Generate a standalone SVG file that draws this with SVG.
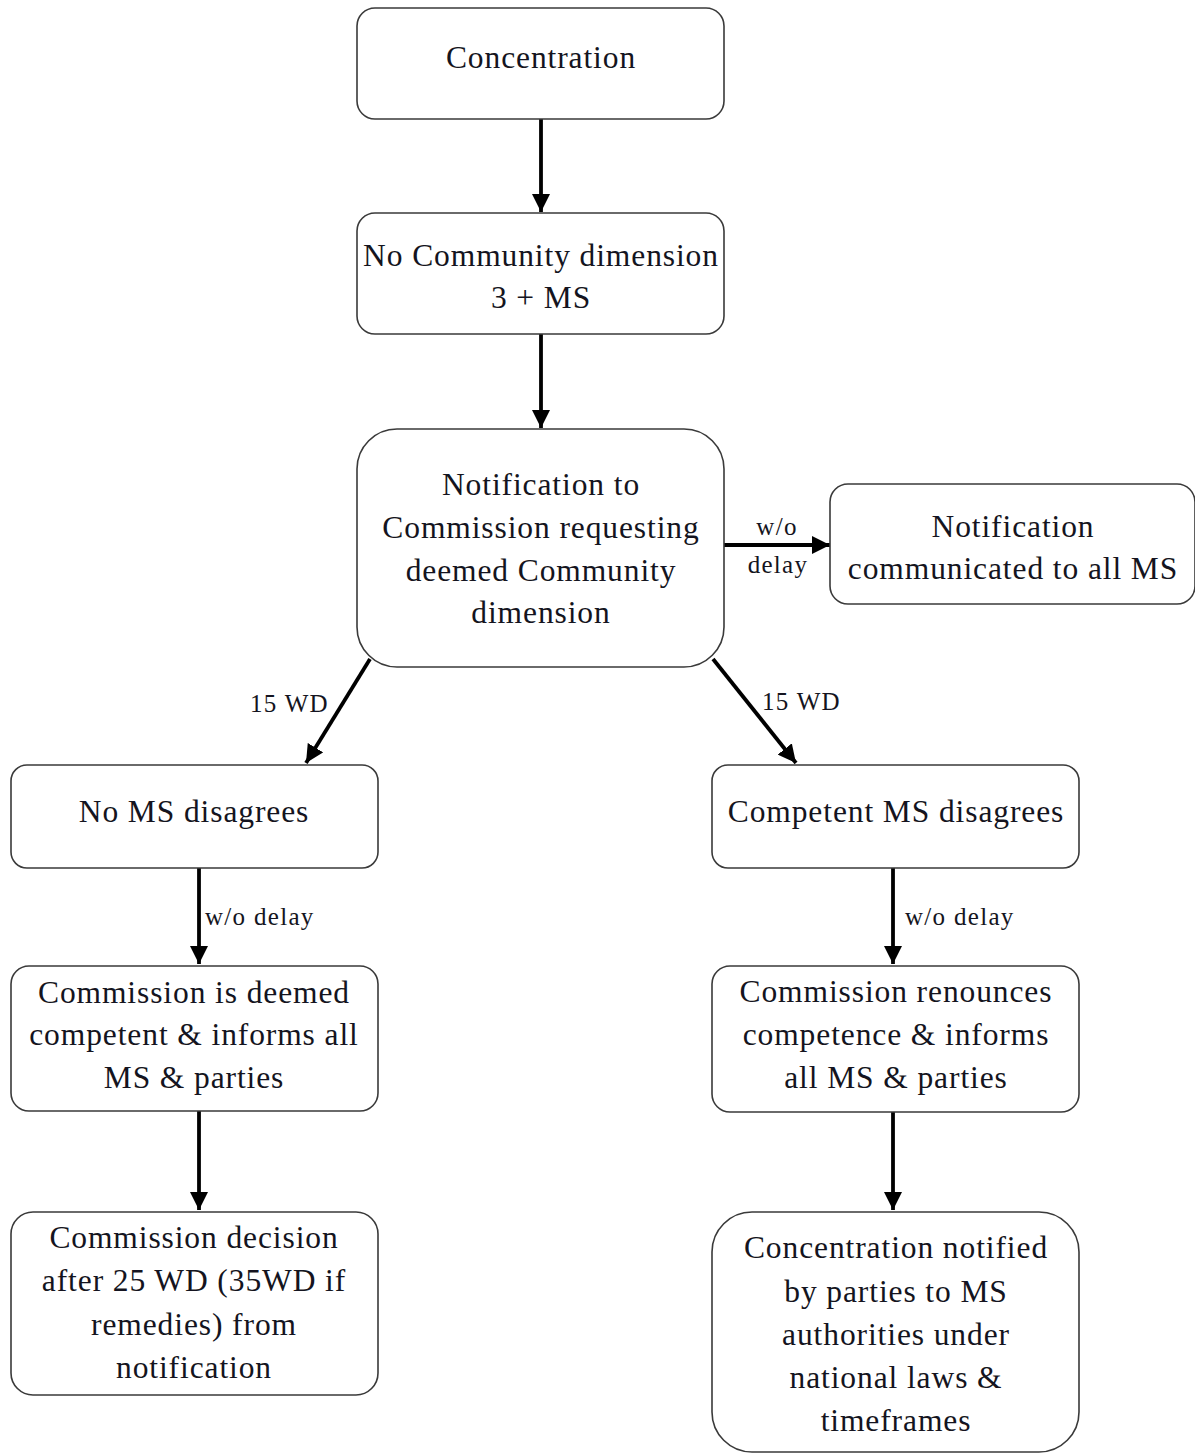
<svg xmlns="http://www.w3.org/2000/svg" width="1195" height="1454" viewBox="0 0 1195 1454">
<defs>
<style>
.box{fill:#fff;stroke:#3a3a3a;stroke-width:1.6}
.t{font-family:"Liberation Serif","Times New Roman",serif;font-size:31.5px;letter-spacing:0.9px;fill:#141420;text-anchor:middle}
.s{font-family:"Liberation Serif","Times New Roman",serif;font-size:25px;letter-spacing:1.3px;fill:#141420}
.c{stroke:#000;stroke-width:3.8;fill:none;marker-end:url(#ah)}
</style>
<marker id="ah" markerUnits="userSpaceOnUse" markerWidth="20" markerHeight="18" refX="18" refY="9" orient="auto">
<path d="M0,0 L18,9 L0,18 Z" fill="#000"/>
</marker>
</defs>
<rect width="1195" height="1454" fill="#fff"/>
<g id="connectors">
<line class="c" x1="541" y1="119" x2="541" y2="212"/>
<line class="c" x1="541" y1="334" x2="541" y2="428"/>
<line class="c" x1="724" y1="545" x2="830" y2="545"/>
<line class="c" x1="370" y1="659" x2="306" y2="763"/>
<line class="c" x1="713" y1="659" x2="796" y2="763"/>
<line class="c" x1="199" y1="868" x2="199" y2="964"/>
<line class="c" x1="893" y1="868" x2="893" y2="964"/>
<line class="c" x1="199" y1="1111" x2="199" y2="1210"/>
<line class="c" x1="893" y1="1112" x2="893" y2="1210"/>
<text class="s" x="777" y="535" text-anchor="middle">w/o</text>
<text class="s" x="778" y="573" text-anchor="middle">delay</text>
<text class="s" x="250" y="712">15 WD</text>
<text class="s" x="762" y="710">15 WD</text>
<text class="s" x="205" y="925">w/o delay</text>
<text class="s" x="905" y="925">w/o delay</text>
</g>
<g id="n1"><rect class="box" x="357" y="8" width="367" height="111" rx="18"/>
<text class="t" x="541" y="68">Concentration</text></g>
<g id="n2"><rect class="box" x="357" y="213" width="367" height="121" rx="18"/>
<text class="t" x="541" y="266">No Community dimension</text>
<text class="t" x="541" y="308">3 + MS</text></g>
<g id="n3"><rect class="box" x="357" y="429" width="367" height="238" rx="40"/>
<text class="t" x="541" y="495">Notification to</text>
<text class="t" x="541" y="538">Commission requesting</text>
<text class="t" x="541" y="581">deemed Community</text>
<text class="t" x="541" y="623">dimension</text></g>
<g id="n4"><rect class="box" x="830" y="484" width="365" height="120" rx="18"/>
<text class="t" x="1013" y="537">Notification</text>
<text class="t" x="1013" y="579">communicated to all MS</text></g>
<g id="n5"><rect class="box" x="11" y="765" width="367" height="103" rx="16"/>
<text class="t" x="194" y="822">No MS disagrees</text></g>
<g id="n6"><rect class="box" x="712" y="765" width="367" height="103" rx="16"/>
<text class="t" x="896" y="822">Competent MS disagrees</text></g>
<g id="n7"><rect class="box" x="11" y="966" width="367" height="145" rx="18"/>
<text class="t" x="194" y="1003">Commission is deemed</text>
<text class="t" x="194" y="1045">competent &amp; informs all</text>
<text class="t" x="194" y="1088">MS &amp; parties</text></g>
<g id="n8"><rect class="box" x="712" y="966" width="367" height="146" rx="18"/>
<text class="t" x="896" y="1002">Commission renounces</text>
<text class="t" x="896" y="1045">competence &amp; informs</text>
<text class="t" x="896" y="1088">all MS &amp; parties</text></g>
<g id="n9"><rect class="box" x="11" y="1212" width="367" height="183" rx="22"/>
<text class="t" x="194" y="1248">Commission decision</text>
<text class="t" x="194" y="1291">after 25 WD (35WD if</text>
<text class="t" x="194" y="1335">remedies) from</text>
<text class="t" x="194" y="1378">notification</text></g>
<g id="n10"><rect class="box" x="712" y="1212" width="367" height="240" rx="40"/>
<text class="t" x="896" y="1258">Concentration notified</text>
<text class="t" x="896" y="1302">by parties to MS</text>
<text class="t" x="896" y="1345">authorities under</text>
<text class="t" x="896" y="1388">national laws &amp;</text>
<text class="t" x="896" y="1431">timeframes</text></g>
</svg>
